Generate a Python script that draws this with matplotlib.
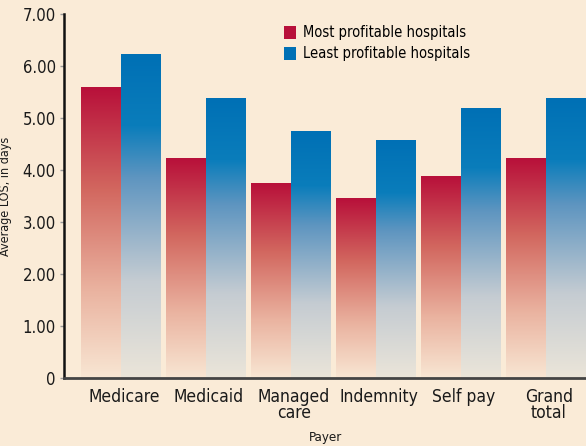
import numpy as np
import matplotlib.pyplot as plt
from matplotlib.colors import LinearSegmentedColormap
from matplotlib.patches import Patch

# Payer categories
payers = ["Medicare", "Medicaid", "Managed\ncare", "Indemnity", "Self pay", "Grand\ntotal"]

# Average length of stay, in days
most_profitable = [5.58, 4.23, 3.75, 3.46, 3.87, 4.23]
least_profitable = [6.23, 5.37, 4.75, 4.56, 5.19, 5.37]

series_names = ["Most profitable hospitals", "Least profitable hospitals"]
yticks = [0, 1, 2, 3, 4, 5, 6, 7]
ytick_labels = ["0", "1.00", "2.00", "3.00", "4.00", "5.00", "6.00", "7.00"]

bg = "#faebd7"
plt.rcParams["font.family"] = ["DejaVu Sans"]
plt.rcParams["font.stretch"] = "condensed"

# gradients: bottom colour -> top colour (per bar)
red_cmap = LinearSegmentedColormap.from_list(
    "red", [(0, "#f8e6d3"), (0.3, "#eab3a0"), (0.65, "#d2675f"), (1, "#b8103a")])
blue_cmap = LinearSegmentedColormap.from_list(
    "blue", [(0, "#ebe5d9"), (0.3, "#c5ccd2"), (0.62, "#5e95c0"), (0.78, "#0a7dbb"), (1, "#0070b5")])

fig = plt.figure(figsize=(5.86, 4.46), dpi=100, facecolor=bg)
ax = fig.add_axes([64 / 586, 68 / 446, 522 / 586, 364 / 446])
ax.set_facecolor(bg)

w = 0.465
x = np.arange(len(payers))
grad = np.linspace(0, 1, 256).reshape(-1, 1)
for i in x:
    for vals, off, cmap in [(most_profitable, -w, red_cmap), (least_profitable, 0, blue_cmap)]:
        ax.imshow(grad, cmap=cmap, origin="lower", aspect="auto",
                  extent=[i + off, i + off + w, 0, vals[i]], interpolation="bilinear")

ax.set_xlim(-0.665, 5.476)
ax.set_ylim(0, 7)

for s in ["top", "right"]:
    ax.spines[s].set_visible(False)
ax.spines["left"].set_color("#111111")
ax.spines["left"].set_linewidth(1.8)
ax.spines["bottom"].set_color("#444444")
ax.spines["bottom"].set_linewidth(2)

ax.set_yticks(yticks)
ax.set_yticklabels(ytick_labels, fontsize=12, color="#1a1a1a")
ax.tick_params(axis="y", length=3, width=1, color="#999999", pad=3)
ax.set_xticks(x + 0.04)
ax.set_xticklabels(payers, fontsize=12.5, color="#1a1a1a", linespacing=0.9)
ax.tick_params(axis="x", length=0, pad=7)

ax.set_ylabel("Average LOS, in days", fontsize=9, color="#1a1a1a")
ax.yaxis.set_label_coords(-0.1, 0.5)
ax.set_xlabel("Payer", fontsize=9.5, color="#1a1a1a", labelpad=6)

handles = [Patch(facecolor="#b8103a"), Patch(facecolor="#0070b5")]
ax.legend(handles, series_names, loc="upper left", bbox_to_anchor=(0.41, 0.985),
          frameon=False, fontsize=10.5, handlelength=0.8, handleheight=1.0,
          handletextpad=0.5, labelspacing=0.4, borderaxespad=0)

fig.savefig("out.png", dpi=100, facecolor=bg)
